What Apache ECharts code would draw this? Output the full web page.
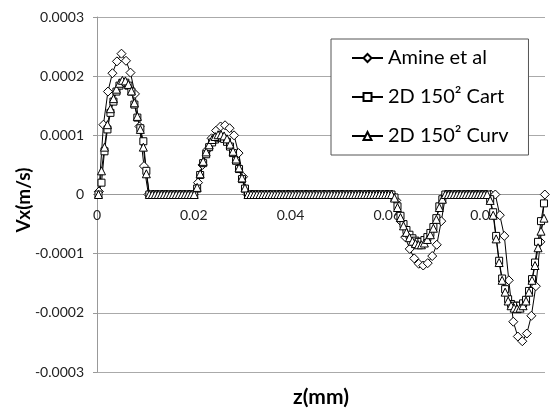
<!DOCTYPE html>
<html>
<head>
<meta charset="utf-8">
<script src="https://cdn.jsdelivr.net/npm/echarts@6/dist/echarts.min.js"></script>
<style>
  html, body { margin: 0; padding: 0; background: #fff; }
</style>
</head>
<body>
<div id="chart" style="width: 550px;height:410px;"></div>
<script>
  // z positions (mm axis) of the Amine et al. points
  var zAmine = [
    0.00040, 0.00133, 0.00226, 0.00319, 0.00412, 0.00506, 0.00599, 0.00692, 0.00785, 0.00878,
    0.00971, 0.01064, 0.01157, 0.01250, 0.01343, 0.01437, 0.01530, 0.01623, 0.01716, 0.01809,
    0.01902, 0.01995, 0.02088, 0.02181, 0.02274, 0.02368, 0.02461, 0.02554, 0.02647, 0.02740,
    0.02833, 0.02926, 0.03019, 0.03112, 0.03205, 0.03299, 0.03392, 0.03485, 0.03578, 0.03671,
    0.03764, 0.03857, 0.03950, 0.04043, 0.04136, 0.04230, 0.04323, 0.04416, 0.04509, 0.04602,
    0.04695, 0.04788, 0.04881, 0.04974, 0.05067, 0.05161, 0.05254, 0.05347, 0.05440, 0.05533,
    0.05626, 0.05719, 0.05812, 0.05905, 0.05998, 0.06092, 0.06185, 0.06278, 0.06371, 0.06464,
    0.06557, 0.06650, 0.06743, 0.06836, 0.06929, 0.07023, 0.07116, 0.07209, 0.07302, 0.07395,
    0.07488, 0.07581, 0.07674, 0.07767, 0.07860, 0.07954, 0.08047, 0.08140, 0.08233, 0.08326,
    0.08419, 0.08512, 0.08605, 0.08698, 0.08791, 0.08885, 0.08978, 0.09071, 0.09164, 0.09257
  ];
  var vxAmine = [
    5e-6, 1.18e-4, 1.74e-4, 2.05e-4, 2.25e-4, 2.38e-4, 2.26e-4, 2.06e-4, 1.7e-4, 1.15e-4,
    4.8e-5, 0, 0, 0, 0, 0, 0, 0, 0, 0,
    0, 0, 2e-5, 5e-5, 7.5e-5, 9.5e-5, 1.08e-4, 1.15e-4, 1.17e-4, 1.12e-4,
    1e-4, 7e-5, 3e-5, 0, 0, 0, 0, 0, 0, 0,
    0, 0, 0, 0, 0, 0, 0, 0, 0, 0,
    0, 0, 0, 0, 0, 0, 0, 0, 0, 0,
    0, 0, 0, 0, 0, 0, -1e-5, -4.5e-5, -7.2e-5, -9.2e-5,
    -1.08e-4, -1.17e-4, -1.2e-4, -1.16e-4, -1.04e-4, -8.5e-5, -4.5e-5, 0, 0, 0,
    0, 0, 0, 0, 0, 0, 0, 0, 0, -3.5e-5,
    -7e-5, -1.45e-4, -2.15e-4, -2.4e-4, -2.48e-4, -2.35e-4, -2.05e-4, -1.55e-4, -8e-5, 0
  ];

  // z positions of the 2D 150² cells
  var zCfd = [
    0.00031, 0.00093, 0.00155, 0.00216, 0.00278, 0.00340, 0.00402, 0.00464, 0.00525, 0.00587,
    0.00649, 0.00711, 0.00773, 0.00834, 0.00896, 0.00958, 0.01020, 0.01082, 0.01143, 0.01205,
    0.01267, 0.01329, 0.01391, 0.01452, 0.01514, 0.01576, 0.01638, 0.01700, 0.01761, 0.01823,
    0.01885, 0.01947, 0.02009, 0.02070, 0.02132, 0.02194, 0.02256, 0.02318, 0.02379, 0.02441,
    0.02503, 0.02565, 0.02627, 0.02688, 0.02750, 0.02812, 0.02874, 0.02936, 0.02997, 0.03059,
    0.03121, 0.03183, 0.03245, 0.03306, 0.03368, 0.03430, 0.03492, 0.03554, 0.03615, 0.03677,
    0.03739, 0.03801, 0.03863, 0.03924, 0.03986, 0.04048, 0.04110, 0.04172, 0.04233, 0.04295,
    0.04357, 0.04419, 0.04481, 0.04542, 0.04604, 0.04666, 0.04728, 0.04790, 0.04851, 0.04913,
    0.04975, 0.05037, 0.05099, 0.05160, 0.05222, 0.05284, 0.05346, 0.05408, 0.05469, 0.05531,
    0.05593, 0.05655, 0.05717, 0.05778, 0.05840, 0.05902, 0.05964, 0.06026, 0.06087, 0.06149,
    0.06211, 0.06273, 0.06335, 0.06396, 0.06458, 0.06520, 0.06582, 0.06644, 0.06705, 0.06767,
    0.06829, 0.06891, 0.06953, 0.07014, 0.07076, 0.07138, 0.07200, 0.07262, 0.07323, 0.07385,
    0.07447, 0.07509, 0.07571, 0.07632, 0.07694, 0.07756, 0.07818, 0.07880, 0.07941, 0.08003,
    0.08065, 0.08127, 0.08189, 0.08250, 0.08312, 0.08374, 0.08436, 0.08498, 0.08559, 0.08621,
    0.08683, 0.08745, 0.08807, 0.08868, 0.08930, 0.08992, 0.09054, 0.09116, 0.09177, 0.09239
  ];
  var vxCart = [
    0, 2e-5, 7.3e-5, 1.1e-4, 1.38e-4, 1.57e-4, 1.74e-4, 1.84e-4, 1.89e-4, 1.89e-4,
    1.84e-4, 1.74e-4, 1.52e-4, 1.3e-4, 1.12e-4, 9e-5, 4e-5, 0, 0, 0,
    0, 0, 0, 0, 0, 0, 0, 0, 0, 0,
    0, 0, 0, 1e-5, 3.3e-5, 5.3e-5, 6.8e-5, 8e-5, 8.8e-5, 9.3e-5,
    9.6e-5, 9.6e-5, 9.4e-5, 8.9e-5, 8.1e-5, 7e-5, 5.7e-5, 4.3e-5, 2.6e-5, 1e-5,
    0, 0, 0, 0, 0, 0, 0, 0, 0, 0,
    0, 0, 0, 0, 0, 0, 0, 0, 0, 0,
    0, 0, 0, 0, 0, 0, 0, 0, 0, 0,
    0, 0, 0, 0, 0, 0, 0, 0, 0, 0,
    0, 0, 0, 0, 0, 0, 0, 0, 0, -5e-6,
    -2e-5, -3.6e-5, -5e-5, -6e-5, -6.8e-5, -7.4e-5, -7.8e-5, -8e-5, -8e-5, -7.7e-5,
    -7.2e-5, -6.5e-5, -5.5e-5, -4e-5, -2e-5, -8e-6, 0, 0, 0, 0,
    0, 0, 0, 0, 0, 0, 0, 0, 0, 0,
    0, -8e-6, -3e-5, -7e-5, -1.12e-4, -1.42e-4, -1.6e-4, -1.77e-4, -1.85e-4, -1.88e-4,
    -1.88e-4, -1.88e-4, -1.84e-4, -1.78e-4, -1.63e-4, -1.43e-4, -1.15e-4, -8e-5, -4.5e-5, -1.5e-5
  ];
  var vxCurv = [
    0, 4e-5, 8e-5, 1.18e-4, 1.45e-4, 1.62e-4, 1.78e-4, 1.88e-4, 1.93e-4, 1.92e-4,
    1.86e-4, 1.75e-4, 1.55e-4, 1.32e-4, 1.1e-4, 8e-5, 3.5e-5, 0, 0, 0,
    0, 0, 0, 0, 0, 0, 0, 0, 0, 0,
    0, 0, 0, 1.2e-5, 3.5e-5, 5.6e-5, 7.2e-5, 8.4e-5, 9.3e-5, 9.8e-5,
    1.01e-4, 1.01e-4, 9.9e-5, 9.4e-5, 8.5e-5, 7.3e-5, 6e-5, 4.5e-5, 2.8e-5, 1.1e-5,
    0, 0, 0, 0, 0, 0, 0, 0, 0, 0,
    0, 0, 0, 0, 0, 0, 0, 0, 0, 0,
    0, 0, 0, 0, 0, 0, 0, 0, 0, 0,
    0, 0, 0, 0, 0, 0, 0, 0, 0, 0,
    0, 0, 0, 0, 0, 0, 0, 0, 0, -6e-6,
    -2.2e-5, -3.9e-5, -5.3e-5, -6.4e-5, -7.3e-5, -7.9e-5, -8.3e-5, -8.5e-5, -8.5e-5, -8.2e-5,
    -7.6e-5, -6.8e-5, -5.7e-5, -4.2e-5, -2.2e-5, -8e-6, 0, 0, 0, 0,
    0, 0, 0, 0, 0, 0, 0, 0, 0, 0,
    0, -1e-5, -3.5e-5, -7.5e-5, -1.15e-4, -1.45e-4, -1.65e-4, -1.8e-4, -1.88e-4, -1.92e-4,
    -1.93e-4, -1.92e-4, -1.88e-4, -1.8e-4, -1.65e-4, -1.45e-4, -1.2e-4, -9e-5, -6.2e-5, -4e-5
  ];

  var seriesNames = ['Amine et al', '2D 150² Cart', '2D 150² Curv'];
  var yTicks = [-0.0003, 0.0003, 0.0001];   // min, max, step
  var xTicks = [0, 0.0926, 0.02];

  function pairs(zs, vs) {
    return zs.map(function (z, k) { return [z, vs[k]]; });
  }

  function mkSeries(name, symbol, size, data) {
    return {
      name: name,
      type: 'line',
      data: data,
      symbol: symbol,
      symbolSize: size,
      showAllSymbol: true,
      lineStyle: { color: '#000', width: 1 },
      itemStyle: { color: '#fff', borderColor: '#000', borderWidth: 1 },
      emphasis: { disabled: true }
    };
  }

  var font = 'Lato';
  var plotH = 355;
  var myChart = echarts.init(document.getElementById('chart'));
  var option = {
    animation: false,
    grid: { left: 97, right: 5, top: 17, height: plotH },
    legend: {
      orient: 'vertical',
      left: 331,
      top: 39,
      padding: [8, 20, 8, 20],
      itemGap: 17,
      itemWidth: 31,
      itemHeight: 10,
      backgroundColor: '#fff',
      borderColor: '#555',
      borderWidth: 1,
      borderRadius: 0,
      textStyle: { fontFamily: font, fontSize: 20, color: '#000', lineHeight: 22 },
      data: seriesNames
    },
    xAxis: {
      type: 'value',
      min: xTicks[0],
      max: xTicks[1],
      interval: xTicks[2],
      // the axis sits on the zero line, half way up the plot
      offset: -plotH / 2,
      axisLine: { onZero: false, lineStyle: { color: '#999' } },
      axisTick: { show: false },
      splitLine: { show: false },
      axisLabel: {
        showMaxLabel: false,
        margin: 14,
        fontFamily: font,
        fontSize: 14,
        color: '#222',
        formatter: function (v) { return v === 0 ? '0' : v.toFixed(2); }
      }
    },
    yAxis: {
      type: 'value',
      min: yTicks[0],
      max: yTicks[1],
      interval: yTicks[2],
      axisLine: { show: true, onZero: false, lineStyle: { color: '#999' } },
      axisTick: { show: true, length: 4, lineStyle: { color: '#999' } },
      splitLine: { show: true, lineStyle: { color: '#aaa', width: 1 } },
      axisLabel: {
        margin: 13,
        fontFamily: font,
        fontSize: 14,
        color: '#222',
        formatter: function (v) { return Math.abs(v) < 1e-9 ? '0' : v.toFixed(4); }
      }
    },
    graphic: [
      {
        type: 'text', x: 321, y: 397,
        style: { text: 'z(mm)', font: 'bold 21px ' + font, fill: '#000', align: 'center', verticalAlign: 'middle' }
      },
      {
        type: 'text', x: 24, y: 200, rotation: Math.PI / 2,
        style: { text: 'Vx(m/s)', font: 'bold 19px ' + font, fill: '#000', align: 'center', verticalAlign: 'middle' }
      }
    ],
    series: [
      mkSeries(seriesNames[0], 'diamond', 9, pairs(zAmine, vxAmine)),
      mkSeries(seriesNames[1], 'rect', 7, pairs(zCfd, vxCart)),
      mkSeries(seriesNames[2], 'triangle', 8, pairs(zCfd, vxCurv))
    ]
  };
  myChart.setOption(option);
</script>
</body>
</html>
